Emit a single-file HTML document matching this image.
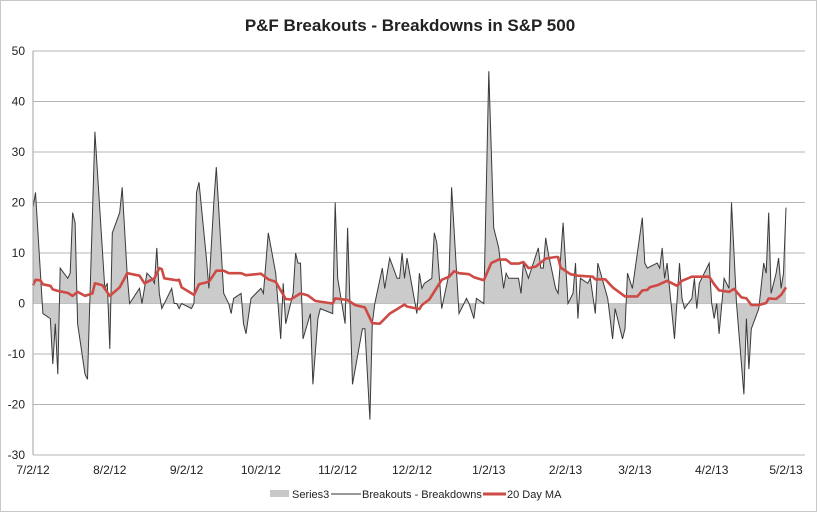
<!DOCTYPE html>
<html><head><meta charset="utf-8"><style>
body{margin:0;background:#fff;}
svg text{font-family:"Liberation Sans",sans-serif;fill:#222;}
</style></head><body>
<svg id="chart" width="820" height="514" viewBox="0 0 820 514" xmlns="http://www.w3.org/2000/svg">
<rect x="0.5" y="0.5" width="816" height="511" fill="#fff" stroke="#c8c8c8"/>
<text x="410" y="31" text-anchor="middle" font-size="17" font-weight="bold">P&amp;F Breakouts - Breakdowns in S&amp;P 500</text>
<g id="grid"></g><g id="area"></g><g id="lines"></g><g id="axes"></g>
<g>
<rect x="270" y="490" width="19" height="7" fill="#c8c8c8"/>
<text x="292" y="498" font-size="11">Series3</text>
<line x1="331" y1="494" x2="361" y2="494" stroke="#333" stroke-width="1"/>
<text x="362" y="498" font-size="11">Breakouts - Breakdowns</text>
<line x1="483" y1="494" x2="506" y2="494" stroke="#cd4a45" stroke-width="3"/>
<text x="507" y="498" font-size="11">20 Day MA</text>
</g>
</svg>
<script>
const days=[0,1,4,7,8,9,10,11,14,15,16,17,18,21,22,25,29,30,31,32,35,36,38,39,43,44,46,48,49,50,51,52,56,57,58,59,60,64,65,66,67,70,71,73,74,77,79,80,81,84,85,86,88,92,93,95,98,100,101,102,105,106,107,108,109,112,113,115,116,121,122,123,126,127,129,133,134,136,137,138,141,142,144,147,148,149,150,151,155,156,157,158,161,162,163,165,168,169,172,175,176,178,179,182,184,186,188,190,191,192,196,197,198,200,204,205,206,207,208,211,212,214,216,218,219,220,221,224,225,227,228,232,234,235,238,239,240,242,246,247,248,252,253,254,255,256,259,261,262,263,266,267,268,269,273,274,275,276,277,279,281,282,284,287,288,289,290,293,295,296,297,298,300,301,302,303,304];
const values=[19,22,-2,-3,-12,-4,-14,7,5,6,18,16,-4,-14,-15,34,3,4,-9,14,18,23,6,0,3,0,6,5,4,11,2,-1,3,0,0,-1,0,-1,0,22,24,9,3,20,27,2,0,-2,1,2,-4,-6,1,3,2,14,6,-7,4,-4,2,10,8,8,-7,-2,-16,-3,-1,-2,20,5,-4,15,-16,-5,-5,-23,-4,0,7,3,9,5,5,10,5,9,-2,6,3,4,5,14,12,-1,6,23,-2,1,0,-3,1,0,46,15,11,3,6,5,5,2,8,5,11,7,7,13,10,3,2,16,0,2,8,-3,5,4,5,-2,8,1,-7,-1,-7,-5,6,3,17,8,7,8,7,11,5,8,-7,8,1,-1,1,5,-1,4,8,0,-3,0,-6,5,3,20,0,-18,-3,-13,-5,-1,8,6,18,2,6,9,3,6,19];
const maDays=[0,1,3,4,7,8,10,14,16,18,21,24,25,28,31,35,37,38,43,45,49,51,52,53,58,59,60,65,67,71,74,77,79,84,86,92,95,98,102,104,108,111,114,121,122,127,130,134,137,140,144,147,150,151,156,157,160,165,168,170,172,176,178,182,185,188,191,193,196,198,200,203,207,211,212,213,217,220,226,227,231,234,239,244,246,248,249,252,256,260,262,266,273,275,277,281,283,286,288,290,293,296,297,300,302,304];
const maValues=[3.6,4.7,4.6,3.8,3.5,2.8,2.5,2.1,1.5,2.3,1.5,2,4,3.6,1.5,3.2,5,6,5.5,4,5,7,6.8,5,4.6,4.7,3.2,1.7,3.8,4.3,6.5,6.5,6,6,5.6,5.9,4.8,4.3,0.9,0.8,2,1.6,0.5,0,1,0.7,-0.3,-0.8,-3.9,-4,-2,-1.1,-0.2,-0.6,-1.1,-0.3,0.8,4.7,5.3,6.4,6,5.8,5.2,4.6,8,8.7,8.7,7.9,7.9,8.2,7,7.3,8.9,9.2,9.2,7.1,5.8,5.5,5.3,4.8,4.8,3.2,1.4,1.4,2.6,2.7,3.2,3.6,4.5,3.5,4.5,5.3,5.3,3.8,2.6,2.3,2.9,1.2,1,-0.3,-0.3,0.1,1,0.9,1.7,3.2];
const yTicks=[50,40,30,20,10,0,-10,-20,-30];
const xTickDays=[0,31,62,92,123,153,184,215,243,274,304];
const xTickLabels=["7/2/12","8/2/12","9/2/12","10/2/12","11/2/12","12/2/12","1/2/13","2/2/13","3/2/13","4/2/13","5/2/13"];
const X0=33,X1=805,Y0=51,Y1=455;
const x=d=>X0+d*2.477;
const y=v=>Y0+(50-v)*(Y1-Y0)/80;
const NS="http://www.w3.org/2000/svg";
function mk(tag,parent){const e=document.createElementNS(NS,tag);document.getElementById(parent).appendChild(e);return e;}
yTicks.forEach((t,i)=>{
  const l=mk('line','grid');
  
  
  l.setAttribute('x1',X0);l.setAttribute('x2',X1);l.setAttribute('y1',y(t));l.setAttribute('y2',y(t));
  l.setAttribute('stroke','#b4b4b4');l.setAttribute('stroke-width','1');
  const tx=mk('text','axes');
  
  
  tx.setAttribute('x',25);tx.setAttribute('y',y(t)+4);tx.setAttribute('text-anchor','end');tx.setAttribute('font-size','12');
  tx.textContent=t;
});
xTickDays.forEach((d,i)=>{
  const tx=mk('text','axes');
  
  
  tx.setAttribute('x',x(d));tx.setAttribute('y',474);tx.setAttribute('text-anchor','middle');tx.setAttribute('font-size','12');
  tx.textContent=xTickLabels[i];
});
const ax=mk('line','axes');


ax.setAttribute('x1',X0);ax.setAttribute('x2',X0);ax.setAttribute('y1',Y0);ax.setAttribute('y2',Y1);ax.setAttribute('stroke','#a0a0a0');
let pts=days.map((d,i)=>x(d).toFixed(1)+','+y(values[i]).toFixed(1)).join(' ');
const area=mk('polygon','area');


area.setAttribute('points',x(days[0])+','+y(0)+' '+pts+' '+x(days[days.length-1])+','+y(0));
area.setAttribute('fill','#cbcbcb');
const bl=mk('polyline','lines');


bl.setAttribute('points',pts);bl.setAttribute('fill','none');bl.setAttribute('stroke','#3a3a3a');bl.setAttribute('stroke-width','1');
const ma=mk('polyline','lines');


ma.setAttribute('points',maDays.map((d,i)=>x(d).toFixed(1)+','+y(maValues[i]).toFixed(1)).join(' '));
ma.setAttribute('fill','none');ma.setAttribute('stroke','#cd4a45');ma.setAttribute('stroke-width','2.6');ma.setAttribute('stroke-linejoin','round');
</script>
</body></html>
